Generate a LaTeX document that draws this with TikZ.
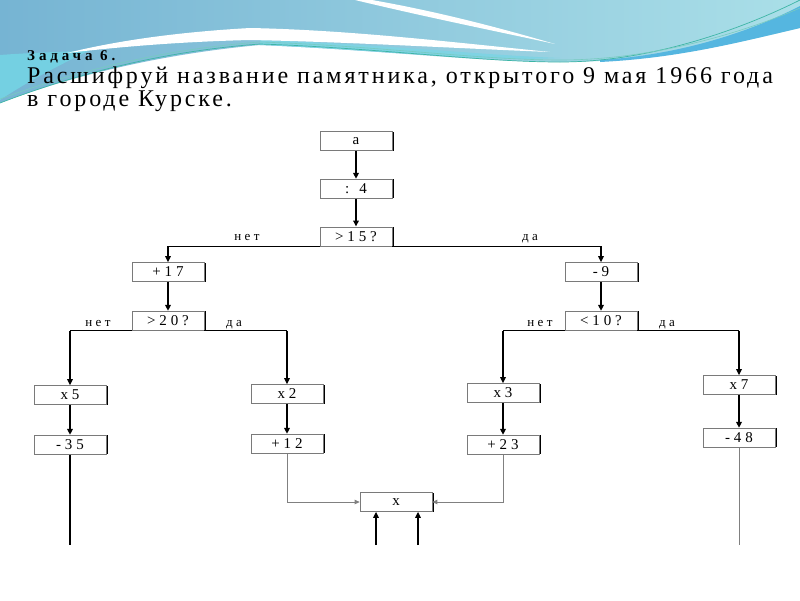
\documentclass[tikz,border=0pt]{standalone}
\usepackage{fontspec}
\setmainfont{Liberation Serif}
\newfontfamily\titlefont[LetterSpace=12]{Liberation Serif}
\newfontfamily\chartfont[LetterSpace=26]{Liberation Serif}
\usepackage{xcolor}
\usepackage{tikz}
\usetikzlibrary{arrows.meta,positioning,shadows}
\definecolor{SkyDeep}{HTML}{76B4D3}
\definecolor{SkyLight}{HTML}{AADFE8}
\definecolor{SkyCyan}{HTML}{74D0E2}
\definecolor{SkyDark}{HTML}{55B6E0}
\definecolor{Teal}{HTML}{3DB5A5}
\definecolor{Frame}{HTML}{7A7A7A}
\definecolor{Wire}{HTML}{808080}

\begin{document}
\begin{tikzpicture}[x=1pt, y=-1pt,
  box/.style={draw=Frame, line width=0.7pt, fill=white,
    minimum width=72pt, minimum height=19pt, inner sep=0pt,
    font=\chartfont\fontsize{15}{15}\selectfont,
    general shadow={fill=black, shadow xshift=1.8pt, shadow yshift=0pt}},
  flow/.style={-{Triangle[length=6pt,width=5.5pt]}, line width=1.6pt},
  lead/.style={line width=1.6pt},
  branch/.style={line width=0.8pt},
  feed/.style={-{Triangle[length=5pt,width=4.5pt]}, line width=0.8pt, draw=Wire},
  note/.style={font=\chartfont\fontsize{13}{13}\selectfont, anchor=base},
  head/.style={anchor=base west, inner sep=0pt, font=\titlefont\fontsize{24}{24}\selectfont}
]
  \useasboundingbox (0,0) rectangle (800,600);
  \fill[white] (0,0) rectangle (800,600);

  % slide header waves
  \shade[left color=SkyDeep, right color=SkyLight]
    (0,0) -- (800,0) -- (800,28) .. controls (740,42) and (660,62) .. (560,62)
    .. controls (480,62) and (380,50) .. (260,45) .. controls (150,55) and (60,80) .. (0,103) -- cycle;
  \fill[SkyCyan] (0,55) .. controls (40,52) and (70,52) .. (90,50)
    .. controls (60,65) and (30,80) .. (0,100) -- cycle;
  \fill[SkyCyan!80!SkyLight] (260,40) .. controls (380,44) and (480,55) .. (560,58)
    .. controls (480,62) and (380,50) .. (260,45) -- cycle;
  \fill[white] (67,53) .. controls (120,40) and (180,32) .. (250,28)
    .. controls (350,30) and (450,42) .. (550,52)
    .. controls (450,48) and (350,42) .. (250,40)
    .. controls (170,42) and (110,48) .. (67,53) -- cycle;
  \fill[white] (355,0) .. controls (430,18) and (500,32) .. (555,44)
    .. controls (500,28) and (440,12) .. (372,0) -- cycle;
  \fill[SkyDark] (600,60) .. controls (680,55) and (750,32) .. (800,6)
    -- (800,28) .. controls (740,42) and (680,58) .. (600,62) -- cycle;
  \draw[Teal, line width=0.7pt] (0,103) .. controls (60,80) and (150,52) .. (260,44)
    .. controls (380,48) and (480,62) .. (560,62) .. controls (650,62) and (740,30) .. (800,0);
  \draw[Teal!70!white, line width=0.6pt] (0,99) .. controls (60,77) and (150,50) .. (260,42)
    .. controls (380,46) and (480,60) .. (560,60) .. controls (650,60) and (740,34) .. (800,8);

  % task text
  \node[head, font=\chartfont\fontsize{15}{15}\selectfont\bfseries] (task) at (27,60) {Задача 6.};
  \node[head] (line1) at (27,83) {Расшифруй название памятника, открытого 9 мая 1966 года};
  \node[head] (line2) at (27,106) {в городе Курске.};

  % chart
  \node[box] (a) at (356,141) {a};
  \node[box, below=28pt of a] (div4) {: 4};
  \node[box, below=28pt of div4] (gt15) {>15?};
  \node[box] (add17) at (168,272) {+17};
  \node[box, below=29pt of add17] (gt20) {>20?};
  \node[box] (sub9) at (601,272) {-9};
  \node[box, below=29pt of sub9] (lt10) {<10?};
  \node[box] (mul5) at (70,395) {x5};
  \node[box, below=30pt of mul5] (sub35) {-35};
  \node[box] (mul2) at (287,394) {x2};
  \node[box, below=30pt of mul2] (add12) {+12};
  \node[box] (mul3) at (503,393) {x3};
  \node[box, below=32pt of mul3] (add23) {+23};
  \node[box] (mul7) at (739,385) {x7};
  \node[box, below=33pt of mul7] (sub48) {-48};
  \node[box] (xout) at (396,502) {x};

  \node[note] (no1) at (247,240) {нет};
  \node[note] (yes1) at (530,240) {да};
  \node[note] (no2) at (98,326) {нет};
  \node[note] (yes2) at (234,326) {да};
  \node[note] (no3) at (540,326) {нет};
  \node[note] (yes3) at (667,326) {да};

  \draw[flow] (a) -- (div4);
  \draw[flow] (div4) -- (gt15);
  \draw[branch] (gt15.south west) -- (gt15.south west -| add17);
  \draw[flow] (gt15.south west -| add17) -- (add17);
  \draw[branch] (gt15.south east) -- (gt15.south east -| sub9);
  \draw[flow] (gt15.south east -| sub9) -- (sub9);
  \draw[flow] (add17) -- (gt20);
  \draw[flow] (sub9) -- (lt10);

  \draw[branch] (gt20.south west) -- (gt20.south west -| mul5);
  \draw[flow] (gt20.south west -| mul5) -- (mul5);
  \draw[branch] (gt20.south east) -- (gt20.south east -| mul2);
  \draw[flow] (gt20.south east -| mul2) -- (mul2);
  \draw[branch] (lt10.south west) -- (lt10.south west -| mul3);
  \draw[flow] (lt10.south west -| mul3) -- (mul3);
  \draw[branch] (lt10.south east) -- (lt10.south east -| mul7);
  \draw[flow] (lt10.south east -| mul7) -- (mul7);

  \draw[flow] (mul5) -- (sub35);
  \draw[flow] (mul2) -- (add12);
  \draw[flow] (mul3) -- (add23);
  \draw[flow] (mul7) -- (sub48);

  \coordinate (tail35) at (70,545);
  \coordinate (tail48) at (739,545);
  \coordinate (in1) at (376,545);
  \coordinate (in2) at (418,545);
  \draw[lead] (sub35) -- (tail35);
  \draw[branch, draw=Wire] (sub48) -- (tail48);
  \draw[feed] (add12) |- (xout);
  \draw[feed] (add23) |- (xout);
  \draw[flow] (in1) -- (in1 |- xout.south);
  \draw[flow] (in2) -- (in2 |- xout.south);
\end{tikzpicture}
\end{document}
